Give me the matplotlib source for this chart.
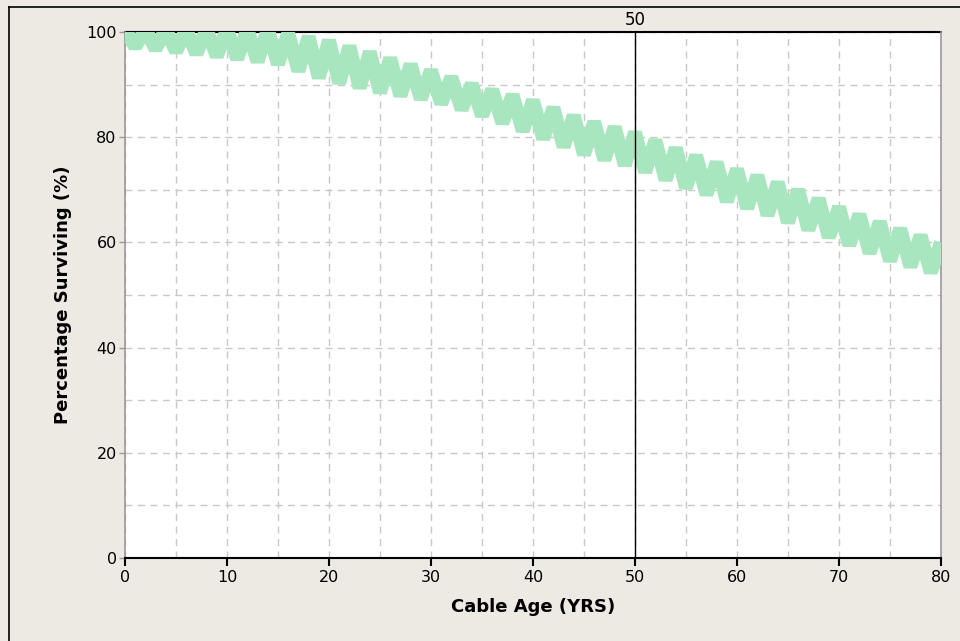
import numpy as np
import matplotlib.pyplot as plt
from matplotlib.lines import Line2D

# cable age (years) and the plotted survival trace
age = list(range(0, 81))
surviving = [100.5, 97.2, 100.5, 96.8, 100.5, 96.3, 100.5, 95.9, 100.5, 95.4,
             100.5, 94.9, 100.5, 94.4, 100.5, 93.9, 99.8, 92.6, 99.1, 91.3,
             98.4, 90.3, 97.3, 89.4, 96.2, 88.5, 95.0, 87.9, 93.8, 87.3,
             92.7, 86.4, 91.4, 85.3, 90.1, 84.1, 89.0, 82.7, 88.0, 81.2,
             87.0, 79.7, 85.6, 78.2, 84.1, 76.7, 82.9, 75.7, 81.9, 74.7,
             80.9, 73.4, 79.4, 71.9, 77.9, 70.4, 76.5, 69.1, 75.2, 67.8,
             73.9, 66.5, 72.7, 65.2, 71.4, 63.8, 70.0, 62.4, 68.3, 61.0,
             66.7, 59.5, 65.3, 58.0, 63.9, 56.5, 62.6, 55.4, 61.3, 54.3,
             60.0]
marker_age = 50

bg = '#EDE9E3'
fig = plt.figure(figsize=(9.6, 6.41), dpi=100, facecolor=bg)
ax = fig.add_axes([0.1302, 0.1295, 0.85, 0.8206])
ax.set_facecolor('white')

ax.plot(age, surviving, color='#A8E6C0', lw=10, solid_joinstyle='bevel',
        solid_capstyle='butt', zorder=3)
ax.axvline(marker_age, color='black', lw=1, zorder=4)

ax.set_xlim(0, 80)
ax.set_ylim(0, 100)
ax.set_xticks(np.arange(0, 81, 10))
ax.set_xticks(np.arange(5, 80, 10), minor=True)
ax.set_yticks(np.arange(0, 101, 20))
ax.set_yticks(np.arange(10, 100, 20), minor=True)
ax.grid(True, which='both', color='#C8C8C8', ls=(0, (5, 4)), lw=1, zorder=1)

ax.tick_params(axis='x', which='major', direction='out', length=6, width=1.5,
               color='black', labelsize=11.5, pad=3)
ax.tick_params(axis='x', which='minor', length=0)
ax.tick_params(axis='y', which='major', direction='out', length=4, width=1,
               color='#999999', labelsize=11.5, pad=2)
ax.tick_params(axis='y', which='minor', length=0)

for s in ['left', 'right']:
    ax.spines[s].set_color('#999999')
    ax.spines[s].set_linewidth(1.2)
ax.spines['bottom'].set_color('black')
ax.spines['bottom'].set_linewidth(1.5)
ax.spines['top'].set_color('black')
ax.spines['top'].set_linewidth(1.5)
ax.spines['top'].set_zorder(2)

ax.set_xlabel('Cable Age (YRS)', fontsize=13, fontweight='bold', labelpad=9)
ax.set_ylabel('Percentage Surviving (%)', fontsize=13, fontweight='bold', labelpad=10)

ax.text(marker_age, 100.6, '50', ha='center', va='bottom', fontsize=12,
        clip_on=False)

# thin border of the screenshot frame (left and top)
fig.add_artist(Line2D([9 / 960, 9 / 960], [0, 1 - 7 / 641], color='black', lw=1.2,
                      transform=fig.transFigure))
fig.add_artist(Line2D([9 / 960, 1], [1 - 7 / 641, 1 - 7 / 641], color='black', lw=1.2,
                      transform=fig.transFigure))

fig.savefig('out.png', dpi=100, facecolor=bg)
